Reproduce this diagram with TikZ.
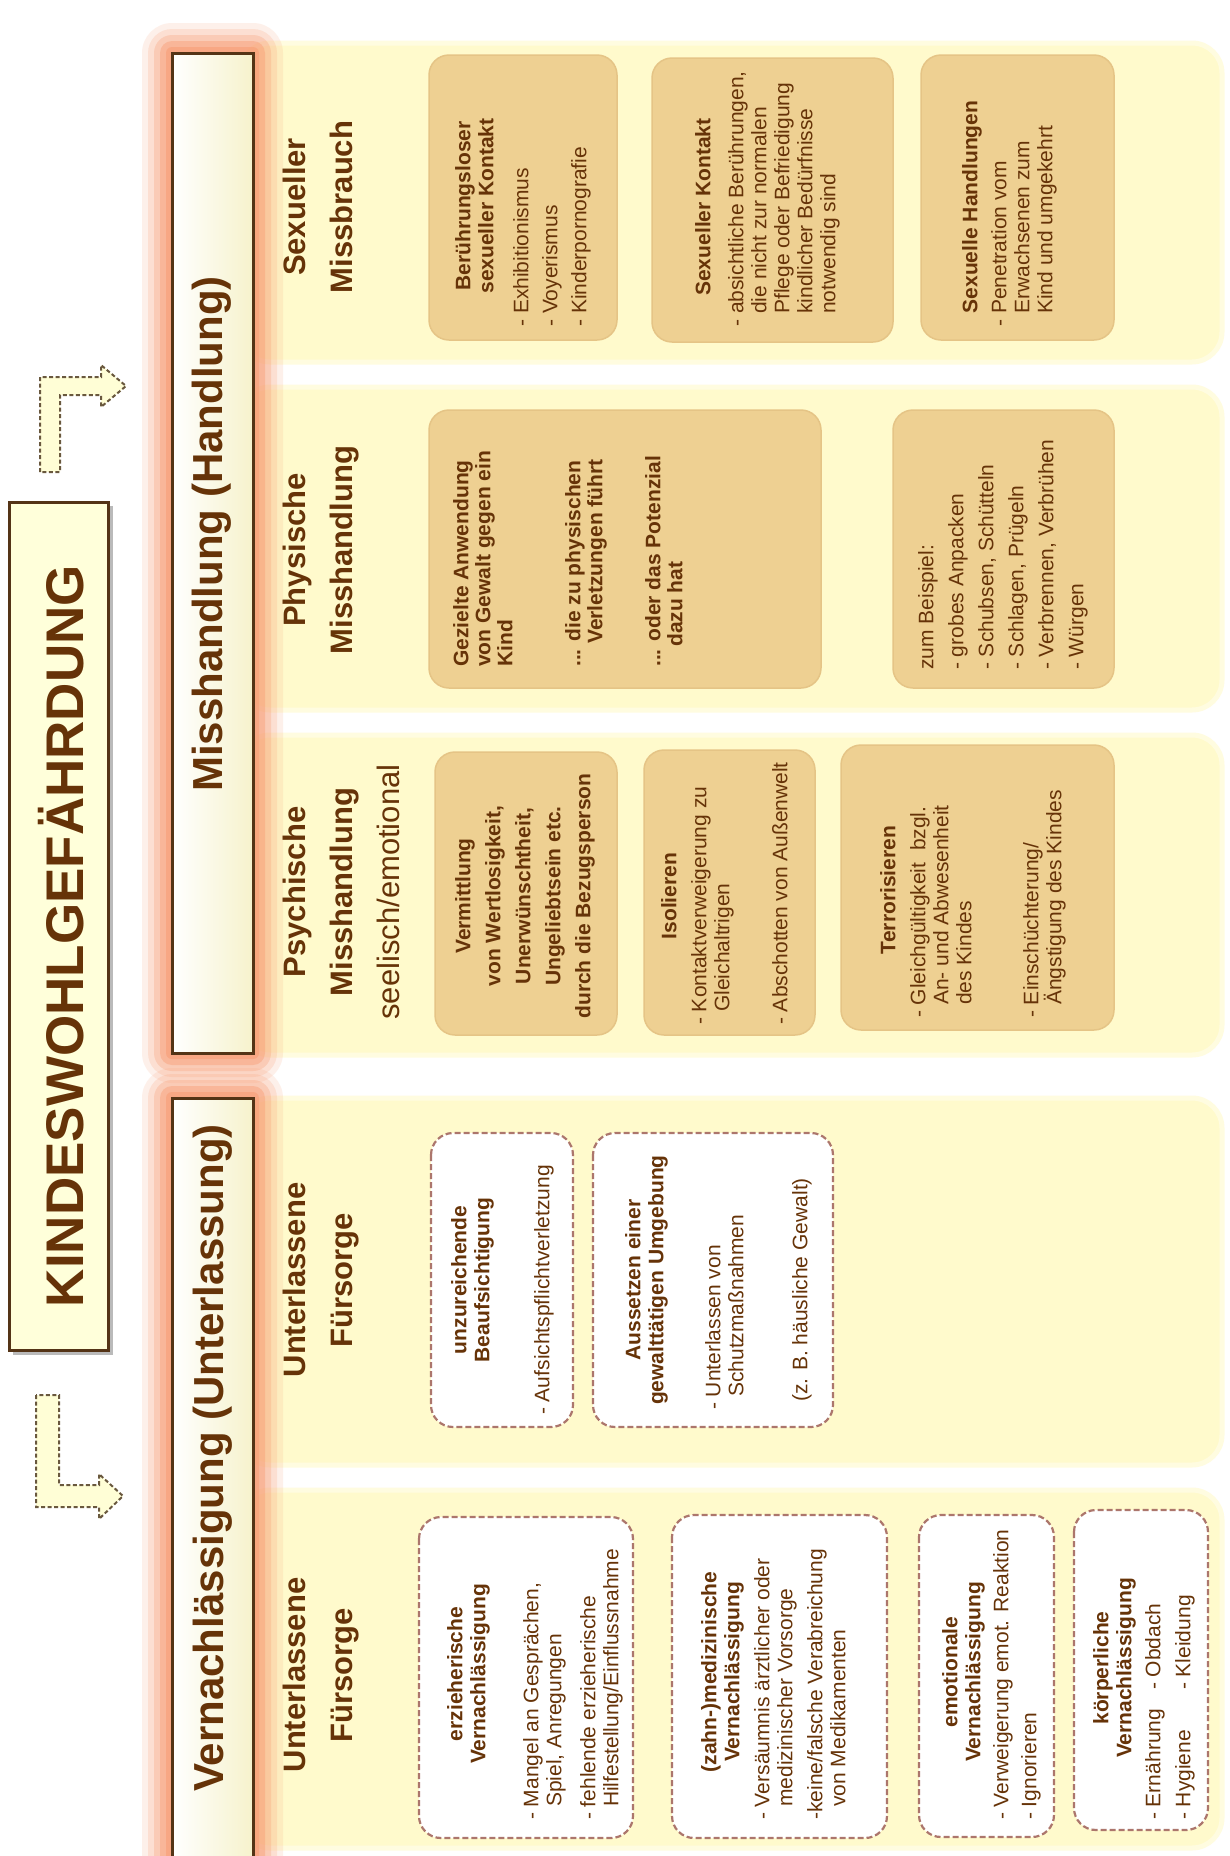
\documentclass[tikz,border=0pt]{standalone}
\usepackage{fontspec}
\setmainfont{Liberation Sans}
\usetikzlibrary{calc, shapes, backgrounds}

\definecolor{textbrown}{RGB}{102,51,8}
\definecolor{paleyellow}{RGB}{255,250,204}
\definecolor{tanfill}{RGB}{238,208,146}
\definecolor{tanedge}{RGB}{229,196,134}
\definecolor{dashedge}{RGB}{172,118,108}
\definecolor{glowred}{RGB}{248,158,118}
\definecolor{cream}{RGB}{246,242,204}
\definecolor{titlefill}{RGB}{255,255,218}
\definecolor{darkedge}{RGB}{84,52,22}
\definecolor{arrowfill}{RGB}{255,254,214}
\definecolor{arrowedge}{RGB}{105,88,62}

\newcommand{\indline}{\hspace*{13pt}}

\begin{document}
\begin{tikzpicture}
  [
    x = 1pt, y = -1pt,
    every node/.style = {inner sep = 0pt, text = textbrown, rotate = 90},
    bandbox/.style = {fill = paleyellow, draw = paleyellow!60!white, line width = 5pt, rounded corners = 30pt},
    tanbox/.style = {fill = tanfill, draw = tanedge, line width = 1.5pt, rounded corners = 20pt},
    dashbox/.style = {fill = white, draw = dashedge, line width = 2.2pt, dash pattern = on 6pt off 3pt, rounded corners = 22pt},
    catbox/.style = {draw = darkedge, line width = 3pt, left color = white, right color = cream},
    blockarrow/.style = {fill = arrowfill, draw = arrowedge, line width = 2pt, dash pattern = on 4pt off 2.5pt},
    catfont/.style = {anchor = base, font = \fontsize{42}{48}\selectfont\bfseries},
    headline/.style = {anchor = north, align = center, font = \fontsize{31}{47}\selectfont\bfseries},
    boxtitle/.style = {anchor = north, align = center, font = \fontsize{21}{23}\selectfont\bfseries},
    boxitems/.style = {anchor = north west, align = left, font = \fontsize{21}{23}\selectfont}
  ]
  \useasboundingbox (0,0) rectangle (1230,1856);
  \fill[white] (0,0) rectangle (1230,1856);

  % bands
  \path[bandbox] (240,43) rectangle (1222,362);
  \path[bandbox] (240,387) rectangle (1222,710);
  \path[bandbox] (240,735) rectangle (1222,1055);
  \path[bandbox] (240,1098) rectangle (1222,1465);
  \path[bandbox] (240,1490) rectangle (1222,1848);

  % glow round the two headings
  \foreach \g/\o in {30/0.15, 24/0.2, 18/0.3, 12/0.45, 6/0.6} {
    \fill[glowred, opacity = \o, rounded corners = \g pt] ({172-\g},{53-\g}) rectangle ({253+\g},{1053+\g});
    \fill[glowred, opacity = \o, rounded corners = \g pt] ({172-\g},{1098-\g}) rectangle ({253+\g},1900);
  }
  \path[catbox] (172,53) rectangle (253,1053);
  \path[catbox] (172,1098) rectangle (253,1900);
  \node[catfont] (cm) at (222,534) {Misshandlung (Handlung)};
  \node[catfont] (cv) at (223,1458) {Vernachlässigung (Unterlassung)};

  % title
  \fill[black!60, opacity = 0.45] (13,506) rectangle (113,1355);
  \path[draw = darkedge, line width = 3pt, fill = titlefill] (9,502) rectangle (108,1350);
  \node[anchor = base, font = \fontsize{53}{60}\selectfont\bfseries] (title) at (83,936) {KINDESWOHLGEFÄHRDUNG};

  \path[blockarrow] (40,472) -- (40,377) -- (101,377) -- (101,365) -- (126,386) -- (101,407) -- (101,395) -- (60,395) -- (60,472) -- cycle;
  \path[blockarrow] (36,1395) -- (36,1507) -- (99,1507) -- (99,1519) -- (123,1496) -- (99,1474) -- (99,1485) -- (59,1485) -- (59,1395) -- cycle;

  \node[headline] (h1) at (283,207) {Sexueller\\Missbrauch};
  \node[headline] (h2) at (283,550) {Physische\\Misshandlung};
  \node[headline] (h3) at (283,892) {Psychische\\Misshandlung\\{\mdseries seelisch/emotional}};
  \node[headline] (h4) at (283,1280) {Unterlassene\\Fürsorge};
  \node[headline] (h5) at (283,1675) {Unterlassene\\Fürsorge};

  % Sexueller Missbrauch
  \path[tanbox] (429,55) rectangle (617,340);
  \node[boxtitle] (s1t) at (455,206) {Berührungsloser\\sexueller Kontakt};
  \node[boxitems] (s1i) at (513,327) {- Exhibitionismus\\[6pt]- Voyerismus\\[6pt]- Kinderpornografie};
  \path[tanbox] (652,58) rectangle (893,342);
  \node[boxtitle] (s2t) at (695,207) {Sexueller Kontakt};
  \node[boxitems] (s2i) at (728,327) {- absichtliche Berührungen,\\\indline die nicht zur normalen\\\indline Pflege oder Befriedigung\\\indline kindlicher Bedürfnisse\\\indline notwendig sind};
  \path[tanbox] (921,55) rectangle (1114,340);
  \node[boxtitle] (s3t) at (962,207) {Sexuelle Handlungen};
  \node[boxitems] (s3i) at (991,327) {- Penetration vom\\\indline Erwachsenen zum\\\indline Kind und umgekehrt};

  % Physische Misshandlung
  \path[tanbox] (429,410) rectangle (821,688);
  \node[boxitems, font = \fontsize{21}{22}\selectfont\bfseries] (p1) at (453,667) {Gezielte Anwendung\\von Gewalt gegen ein\\Kind\\[46pt]... die zu physischen\\\hspace*{23pt}Verletzungen führt\\[36pt]... oder das Potenzial\\\hspace*{20pt}dazu hat};
  \path[tanbox] (893,410) rectangle (1114,688);
  \node[boxitems] (p2) at (918,670) {zum Beispiel:\\[7pt]- grobes Anpacken\\[7pt]- Schubsen, Schütteln\\[7pt]- Schlagen, Prügeln\\[7pt]- Verbrennen, Verbrühen\\[7pt]- Würgen};

  % Psychische Misshandlung
  \path[tanbox] (435,752) rectangle (617,1035);
  \node[boxtitle] (m1) at (455,896) {Vermittlung\\[7pt]von Wertlosigkeit,\\[7pt]Unerwünschtheit,\\[7pt]Ungeliebtsein etc.\\[7pt]durch die Bezugsperson};
  \path[tanbox] (644,750) rectangle (815,1035);
  \node[boxtitle] (m2t) at (661,896) {Isolieren};
  \node[boxitems] (m2i) at (691,1025) {- Kontaktverweigerung zu\\\indline Gleichaltrigen\\[35pt]- Abschotten von Außenwelt};
  \path[tanbox] (841,745) rectangle (1114,1030);
  \node[boxtitle] (m3t) at (880,890) {Terrorisieren};
  \node[boxitems] (m3i) at (910,1018) {- Gleichgültigkeit\ \ bzgl.\\\indline An- und Abwesenheit\\\indline des Kindes\\[44pt]- Einschüchterung/\\\indline Ängstigung des Kindes};

  % Unterlassene Fuersorge
  \path[dashbox] (431,1133) rectangle (573,1427);
  \node[boxtitle] (u1t) at (451,1280) {unzureichende\\Beaufsichtigung};
  \node[boxitems] (u1i) at (534,1415) {- Aufsichtspflichtverletzung};
  \path[dashbox] (593,1133) rectangle (833,1427);
  \node[boxtitle] (u2t) at (625,1280) {Aussetzen einer\\gewalttätigen Umgebung};
  \node[boxitems] (u2i) at (705,1410) {- Unterlassen von\\\indline Schutzmaßnahmen\\[41pt]\hspace*{8pt}(z. B. häusliche Gewalt)};

  \path[dashbox] (419,1517) rectangle (633,1838);
  \node[boxtitle] (v1t) at (447,1674) {erzieherische\\Vernachlässigung};
  \node[boxitems] (v1i) at (523,1820) {- Mangel an Gesprächen,\\\indline Spiel, Anregungen\\[11pt]- fehlende erzieherische\\\indline Hilfestellung/Einflussnahme};
  \path[dashbox] (672,1515) rectangle (887,1838);
  \node[boxtitle] (v2t) at (701,1672) {(zahn-)medizinische\\Vernachlässigung};
  \node[boxitems] (v2i) at (754,1820) {- Versäumnis ärztlicher oder\\\indline medizinischer Vorsorge\\[7pt]-keine/falsche Verabreichung\\\indline von Medikamenten};
  \path[dashbox] (919,1515) rectangle (1054,1837);
  \node[boxtitle] (v3t) at (942,1672) {emotionale\\Vernachlässigung};
  \node[boxitems] (v3i) at (993,1820) {- Verweigerung emot. Reaktion\\[5pt]- Ignorieren};
  \path[dashbox] (1074,1510) rectangle (1208,1830);
  \node[boxtitle] (v4t) at (1093,1668) {körperliche\\Vernachlässigung};
  \node[boxitems] (v4i) at (1145,1820) {\makebox[130pt][l]{- Ernährung}- Obdach\\[7pt]\makebox[130pt][l]{- Hygiene}- Kleidung};
\end{tikzpicture}
\end{document}
